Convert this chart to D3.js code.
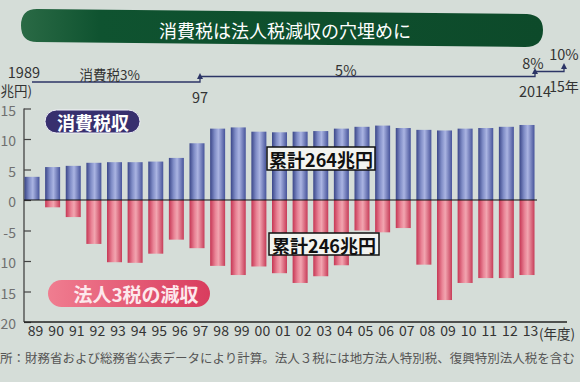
<!DOCTYPE html>
<html><head><meta charset="utf-8">
<script src="https://cdn.jsdelivr.net/npm/d3@7"></script>
<style>html,body{margin:0;padding:0;background:#d5ddd8;}svg{display:block;font-family:"Noto Sans CJK JP","Noto Sans",sans-serif;}</style>
</head><body>
<script>
// ---- data ----
const years = ["89","90","91","92","93","94","95","96","97","98","99","00","01","02","03","04","05","06","07","08","09","10","11","12","13"];
const consumptionTax = [3.8,5.4,5.6,6.1,6.2,6.2,6.3,6.9,9.3,11.7,11.9,11.2,11.1,11.2,11.3,11.7,12.0,12.2,11.8,11.5,11.4,11.7,11.8,12.0,12.3];
const corporateDecrease = [0,-1.2,-2.8,-7.2,-10.2,-10.3,-8.8,-6.5,-7.9,-10.8,-12.3,-10.9,-12.0,-13.6,-12.5,-10.7,-5.0,-5.3,-4.6,-10.6,-16.4,-13.6,-12.8,-12.8,-12.3];
const yTicks = [15,10,5,0,-5,-10,-15,-20];
const rateYears = [1989,1997,2014,2015];
const rateLabels = ["消費税3%","5%","8%","10%"];
const rateLabelPos = [1992.7,2004.4,2013.9,2015];
const yearLabels = ["1989","97","2014","15年"];
const title = "消費税は法人税減収の穴埋めに";
const footnote = "出所：財務省および総務省公表データにより計算。法人３税には地方法人特別税、復興特別法人税を含む";

const W=580,H=382;
const svg=d3.select("body").append("svg").attr("width",W).attr("height",H);
svg.append("rect").attr("width",W).attr("height",H).attr("fill","#d5ddd8");

const defs=svg.append("defs");
const gb=defs.append("linearGradient").attr("id","gBlue");
[["0%","#3a4688"],["30%","#7f8cc6"],["55%","#aab4e2"],["100%","#46539a"]].forEach(s=>gb.append("stop").attr("offset",s[0]).attr("stop-color",s[1]));
const gr=defs.append("linearGradient").attr("id","gRed");
[["0%","#c63654"],["35%","#ea8597"],["55%","#f2a5b0"],["100%","#c73c58"]].forEach(s=>gr.append("stop").attr("offset",s[0]).attr("stop-color",s[1]));
const gg=defs.append("linearGradient").attr("id","gGreen");
[["0%","#2a6a45"],["15%","#0f5330"],["100%","#0d4a2a"]].forEach(s=>gg.append("stop").attr("offset",s[0]).attr("stop-color",s[1]));
const gp=defs.append("linearGradient").attr("id","gPink");
[["0%","#f07d90"],["100%","#d93c5e"]].forEach(s=>gp.append("stop").attr("offset",s[0]).attr("stop-color",s[1]));

// ---- title banner ----
svg.append("path")
  .attr("d","M37,9 L527,14 Q543,15 543,30 Q543,47 525,47 L37,42 Q21,42 21,25.5 Q21,9 37,9 Z")
  .attr("fill","url(#gGreen)");
svg.append("text").attr("x",285).attr("y",30).attr("text-anchor","middle").attr("dominant-baseline","central")
  .attr("font-size",18).attr("fill","#ffffff").text(title);

// ---- scales ----
const x=d3.scalePoint().domain(years).range([32,527]);
const y=d3.scaleLinear().domain([-20,15]).range([322,108.5]);
const tx=d3.scaleLinear().domain(rateYears).range([32,200,535,564]);
const ty=d3.scaleLinear().domain([0,3]).range([82,67]);
const bw=15;

// ---- timeline ----
const navy="#2c3566";
let p="M"+tx(rateYears[0])+","+ty(0);
for(let i=1;i<rateYears.length;i++){ p+=" H"+tx(rateYears[i])+" V"+(ty(i)-0.5); }
svg.append("path").attr("d",p).attr("fill","none").attr("stroke",navy).attr("stroke-width",1.3);
for(let i=1;i<rateYears.length;i++){
  const ax=tx(rateYears[i]), ay=ty(i)-1;
  svg.append("path").attr("d",`M${ax-3},${ay+3} L${ax},${ay-3} L${ax+3},${ay+3} Z`).attr("fill",navy);
}
const tl=svg.append("g").attr("fill","#333");
tl.append("text").attr("x",tx(rateYears[0])+8).attr("y",78).attr("text-anchor","end").attr("font-size",14.5).text(yearLabels[0]);
tl.append("text").attr("x",tx(rateYears[1])).attr("y",103).attr("text-anchor","middle").attr("font-size",14.5).text(yearLabels[1]);
tl.append("text").attr("x",tx(rateYears[2])).attr("y",97).attr("text-anchor","middle").attr("font-size",14.5).text(yearLabels[2]);
tl.append("text").attr("x",tx(rateYears[3])).attr("y",92).attr("text-anchor","middle").attr("font-size",14).text(yearLabels[3]);
const rateBase=[80,76,69,60];
rateLabels.forEach((t,i)=>{
  tl.append("text").attr("x",tx(rateLabelPos[i])).attr("y",rateBase[i]).attr("text-anchor","middle")
    .attr("font-size",i===0?13.5:14.5).text(t);
});
svg.append("text").attr("x",32).attr("y",96).attr("text-anchor","end").attr("font-size",13.5).attr("fill","#333").text("(兆円)");

// ---- y axis ----
const ya=svg.append("g").attr("transform","translate(24,0)")
  .call(d3.axisRight(y).tickValues(yTicks).tickSize(7).tickFormat(""));
ya.select(".domain").remove();
ya.selectAll("line").attr("stroke","#444").attr("stroke-width",1.2);
svg.append("line").attr("x1",24).attr("x2",24).attr("y1",y(15)).attr("y2",y(-20)).attr("stroke","#444").attr("stroke-width",1.3);
svg.append("g").selectAll("text").data(yTicks).join("text")
  .attr("x",16).attr("y",d=>y(d)+1).attr("text-anchor","end").attr("dominant-baseline","central")
  .attr("font-size",14).attr("fill","#707070").text(d=>d<0?"-"+Math.abs(d):d);

// ---- bars ----
svg.append("g").selectAll("rect").data(years).join("rect")
  .attr("x",d=>x(d)-bw/2).attr("width",bw)
  .attr("y",(d,i)=>y(consumptionTax[i])).attr("height",(d,i)=>y(0)-y(consumptionTax[i]))
  .attr("fill","url(#gBlue)");
svg.append("g").selectAll("rect").data(years).join("rect")
  .attr("x",d=>x(d)-bw/2).attr("width",bw)
  .attr("y",y(0)).attr("height",(d,i)=>y(corporateDecrease[i])-y(0))
  .attr("fill","url(#gRed)");

// zero line
svg.append("line").attr("x1",24).attr("x2",537).attr("y1",y(0)).attr("y2",y(0)).attr("stroke","#111").attr("stroke-width",1.2);

// ---- x axis ----
const xa=svg.append("g").attr("transform",`translate(0,${y(-20)})`).call(d3.axisBottom(x).tickSize(0).tickPadding(10));
xa.select(".domain").remove();
xa.selectAll("text").attr("font-size",14).attr("fill","#333").attr("font-family","'Noto Sans CJK JP',sans-serif").attr("dx",3).attr("dy","0.3em");
svg.append("line").attr("x1",24).attr("x2",567).attr("y1",y(-20)).attr("y2",y(-20)).attr("stroke","#222").attr("stroke-width",1.5);
svg.append("text").attr("x",x("13")+12).attr("y",339).attr("font-size",13.5).attr("fill","#333").text("(年度)");

// ---- legend pills ----
svg.append("rect").attr("x",45).attr("y",110).attr("width",95).attr("height",23).attr("rx",11.5)
  .attr("fill","#372f6e").attr("stroke","#f0f0f8").attr("stroke-width",1);
svg.append("text").attr("x",93).attr("y",121.5).attr("text-anchor","middle").attr("dominant-baseline","central")
  .attr("font-size",18).attr("font-weight","bold").attr("fill","#ffffff").text("消費税収");
svg.append("rect").attr("x",48).attr("y",280).attr("width",162).attr("height",27).attr("rx",13.5).attr("fill","url(#gPink)");
svg.append("text").attr("x",136).attr("y",293.5).attr("text-anchor","middle").attr("dominant-baseline","central")
  .attr("font-size",19).attr("font-weight","bold").attr("fill","#fde8ec").text("法人3税の減収");

// ---- totals ----
const boxes=[{t:"累計264兆円",x:267,y:147,w:108,h:23},{t:"累計246兆円",x:269,y:233,w:110,h:22}];
boxes.forEach(b=>{
  svg.append("rect").attr("x",b.x).attr("y",b.y).attr("width",b.w).attr("height",b.h)
    .attr("fill","#f3f4f0").attr("stroke","#111").attr("stroke-width",1.5);
  svg.append("text").attr("x",b.x+b.w/2).attr("y",b.y+b.h/2+0.5).attr("text-anchor","middle").attr("dominant-baseline","central")
    .attr("font-size",18).attr("font-weight","bold").attr("fill","#111").text(b.t);
});

// ---- footnote ----
svg.append("text").attr("x",-12.5).attr("y",363).attr("font-size",12.5).attr("fill","#555").text(footnote);
</script>
</body></html>
